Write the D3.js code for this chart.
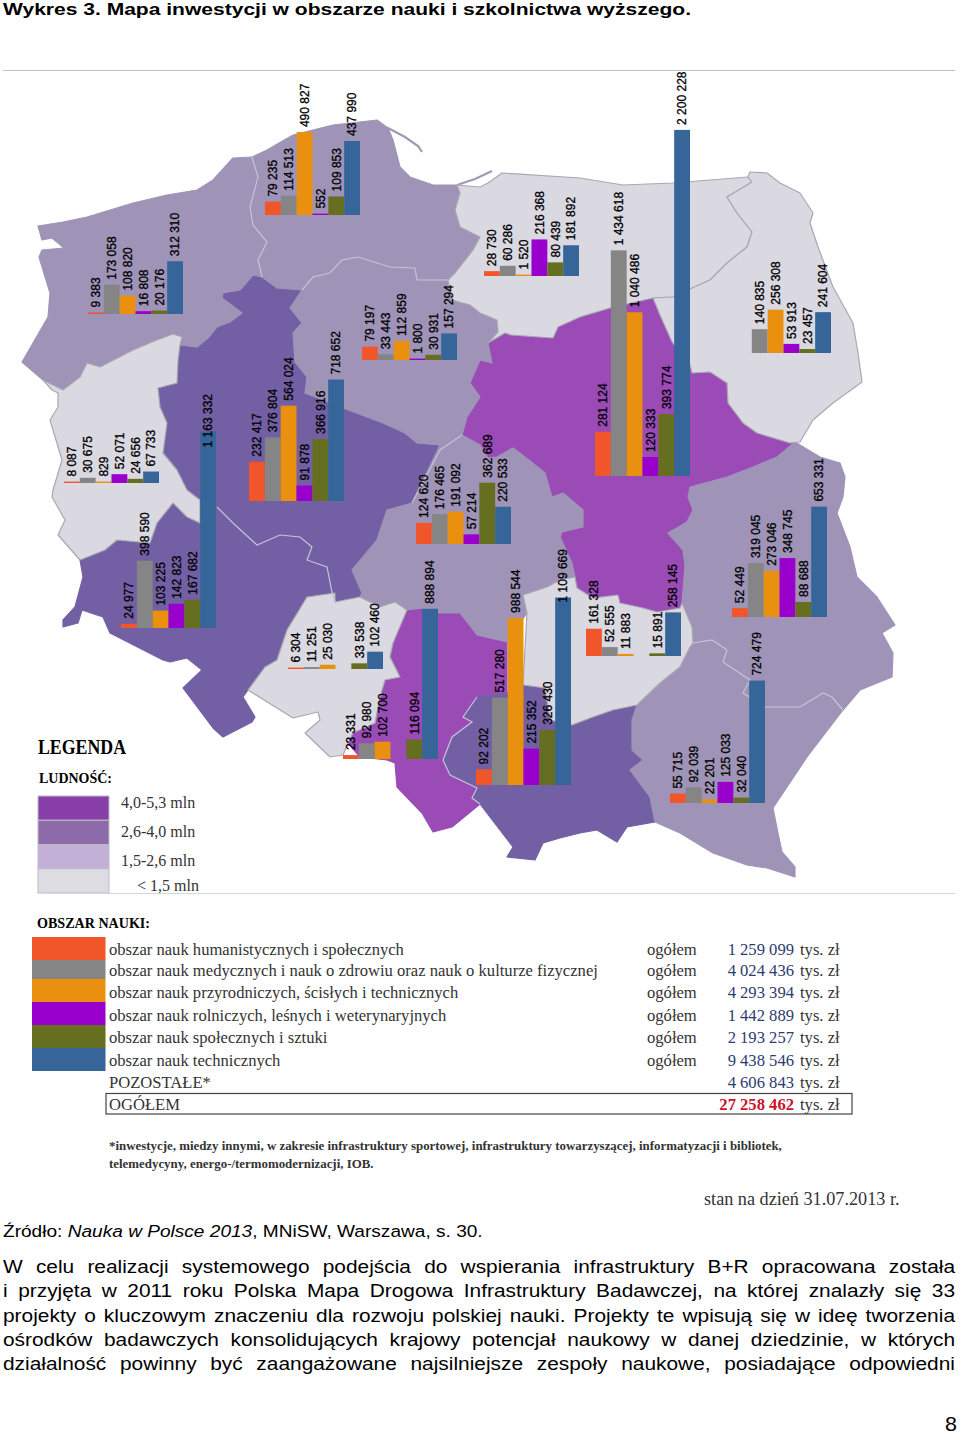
<!DOCTYPE html>
<html>
<head>
<meta charset="utf-8">
<script src="https://d3js.org/d3.v7.min.js"></script>
<style>
    body { margin: 0; background: #fff; }
    svg { display: block; }
    text { font-family: "Liberation Sans", sans-serif; fill: #000; }
    .serif text, text.serif { font-family: "Liberation Serif", serif; }
</style>
</head>
<body>
<svg id="chart" width="960" height="1435"></svg>
<script>
// values per voivodeship, in category order (null = no bar)
var categories = ['hum', 'med', 'prz', 'rol', 'spo', 'tec'];
var zachodniopomorskie = [9383, 173058, 108820, 16808, 20176, 312310];
var pomorskie = [79235, 114513, 490827, 552, 109853, 437990];
var warminskoMazurskie = [28730, 60286, 1520, 216368, 80439, 181892];
var podlaskie = [null, 140835, 256308, 53913, 23457, 241604];
var lubuskie = [8087, 30675, 829, 52071, 24656, 67733];
var wielkopolskie = [232417, 376804, 564024, 91878, 366916, 718652];
var kujawskoPomorskie = [79197, 33443, 112859, 1800, 30931, 157294];
var mazowieckie = [281124, 1434618, 1040486, 120333, 393774, 2200228];
var dolnoslaskie = [24977, 398590, 103225, 142823, 167682, 1163332];
var lodzkie = [124620, 176465, 191092, 57214, 362689, 220533];
var lubelskie = [52449, 319045, 273046, 348745, 88688, 653331];
var opolskie = [6304, 11251, 25030, null, 33538, 102460];
var slaskie = [23331, 92980, 102700, null, 116094, 888894];
var malopolskie = [92202, 517280, 988544, 215352, 326430, 1109669];
var swietokrzyskie = [161328, 52555, 11883, null, 15891, 258145];
var podkarpackie = [55715, 92039, 22201, 125033, 32040, 724479];

var categoryNames = [
    'obszar nauk humanistycznych i społecznych',
    'obszar nauk medycznych i nauk o zdrowiu oraz nauk o kulturze fizycznej',
    'obszar nauk przyrodniczych, ścisłych i technicznych',
    'obszar nauk rolniczych, leśnych i weterynaryjnych',
    'obszar nauk społecznych i sztuki',
    'obszar nauk technicznych'
];
var categoryTotals = ['1 259 099', '4 024 436', '4 293 394', '1 442 889', '2 193 257', '9 438 546'];
var populationLabels = ['4,0-5,3 mln', '2,6-4,0 mln', '1,5-2,6 mln', '< 1,5 mln'];

var categoryColors = ['#f0562a', '#858585', '#e9910f', '#9a00cb', '#666f1f', '#36659a'];
var populationColors = ['#8840a8', '#8d6bab', '#c2b0d6', '#dcdce2'];

// where each bar group stands on the map: left edge, baseline, px per million
var groups = [
    { values: zachodniopomorskie, x: 88, y: 314, k: 169 },
    { values: pomorskie, x: 265, y: 215, k: 169 },
    { values: warminskoMazurskie, x: 484, y: 276, k: 169 },
    { values: podlaskie, x: 736, y: 353, k: 169 },
    { values: lubuskie, x: 64, y: 483, k: 169 },
    { values: wielkopolskie, x: 249, y: 501, k: 169 },
    { values: kujawskoPomorskie, x: 362, y: 360, k: 169 },
    { values: mazowieckie, x: 595, y: 476, k: 157.3 },
    { values: dolnoslaskie, x: 121, y: 628, k: 169, shift: { 5: 21 } },
    { values: lodzkie, x: 416, y: 544, k: 169 },
    { values: lubelskie, x: 732, y: 617, k: 169 },
    { values: opolskie, x: 288, y: 669, k: 169 },
    { values: slaskie, x: 343, y: 759, k: 169 },
    { values: malopolskie, x: 476, y: 785, k: 169, shift: { 5: 10 } },
    { values: swietokrzyskie, x: 586, y: 656, k: 169 },
    { values: podkarpackie, x: 670, y: 803, k: 169 }
];

// basemap outlines, level = index in regionColors
var regions = [
    { level: 0, points: [[492,363],[488,343],[505,333],[511,335],[553,338],[558,327],[580,317],[610,308],[653,298],[660,315],[672,342],[690,365],[692,373],[710,372],[727,383],[728,403],[743,423],[757,433],[790,443],[795,442],[777,457],[753,467],[727,477],[690,487],[688,497],[693,510],[687,522],[668,533],[683,550],[685,565],[682,603],[680,608],[657,612],[643,608],[620,603],[618,595],[593,598],[577,588],[575,577],[572,563],[560,537],[562,532],[583,527],[583,510],[563,493],[552,497],[545,473],[525,457],[513,448],[497,457],[488,458],[480,445],[462,435],[467,417],[480,397],[470,383],[480,360]] },
    { level: 0, points: [[407,610],[422,608],[438,613],[460,613],[477,635],[507,642],[507,693],[493,695],[477,697],[463,717],[472,722],[452,737],[443,760],[450,775],[477,788],[472,798],[480,804],[452,827],[433,832],[422,813],[397,787],[395,763],[387,760],[360,757],[348,743],[353,733],[375,723],[380,697],[385,680],[400,677],[390,657],[393,643]] },
    { level: 1, points: [[262,277],[253,275],[240,290],[223,293],[222,298],[242,313],[230,322],[217,327],[208,338],[197,347],[180,345],[178,360],[177,383],[158,388],[160,407],[167,423],[163,453],[177,470],[187,490],[200,500],[217,507],[233,523],[257,545],[280,535],[300,537],[312,547],[307,560],[327,567],[332,592],[335,602],[360,597],[362,593],[352,570],[363,557],[377,540],[387,510],[412,503],[440,450],[438,445],[417,443],[405,433],[383,423],[343,408],[305,393],[307,377],[295,362],[293,333],[302,323],[290,308],[302,290],[277,288]] },
    { level: 1, points: [[80,560],[83,577],[75,607],[63,620],[63,627],[78,623],[82,610],[103,617],[110,633],[163,660],[170,662],[187,658],[202,670],[183,688],[213,728],[223,737],[252,722],[255,717],[243,697],[248,690],[265,667],[277,660],[287,630],[307,597],[335,593],[335,602],[332,592],[327,567],[307,560],[312,547],[300,537],[280,535],[257,545],[233,523],[217,507],[200,500],[200,523],[187,517],[173,503],[157,523],[150,543],[117,540],[105,550]] },
    { level: 1, points: [[477,697],[493,695],[507,693],[523,685],[545,688],[550,720],[572,725],[593,717],[613,710],[637,705],[632,720],[632,750],[643,760],[630,770],[650,797],[655,822],[627,827],[617,842],[597,830],[580,833],[560,838],[543,843],[535,860],[507,857],[513,847],[480,804],[472,798],[477,788],[450,775],[443,760],[452,737],[472,722],[463,717]] },
    { level: 2, points: [[252,157],[233,158],[213,180],[197,190],[167,195],[133,203],[87,217],[63,222],[38,226],[42,240],[52,238],[64,248],[42,250],[39,257],[50,293],[48,317],[33,343],[22,362],[43,380],[63,390],[80,377],[87,363],[100,367],[133,350],[157,340],[173,334],[182,337],[180,345],[197,347],[208,338],[217,327],[230,322],[242,313],[222,298],[223,293],[240,290],[253,275],[262,277],[258,260],[267,242],[253,225],[250,207],[258,177]] },
    { level: 2, points: [[252,157],[267,150],[293,135],[333,125],[377,120],[388,128],[393,140],[400,167],[410,177],[433,185],[457,185],[460,193],[455,210],[460,227],[480,237],[473,250],[455,273],[448,280],[417,280],[415,268],[390,267],[358,257],[342,260],[330,273],[313,277],[302,290],[277,288],[262,277],[258,260],[267,242],[253,225],[250,207],[258,177]] },
    { level: 2, points: [[302,290],[313,277],[330,273],[342,260],[358,257],[390,267],[415,268],[417,280],[448,280],[452,300],[470,305],[480,313],[497,320],[498,332],[488,343],[492,363],[480,360],[470,383],[480,397],[467,417],[462,435],[440,445],[417,443],[405,433],[383,423],[343,408],[305,393],[307,377],[295,362],[293,333],[302,323],[290,308]] },
    { level: 2, points: [[440,445],[462,435],[480,445],[488,458],[497,457],[513,448],[525,457],[545,473],[552,497],[563,493],[583,510],[583,527],[562,532],[560,537],[572,563],[575,577],[560,580],[547,587],[523,595],[527,613],[507,642],[477,635],[460,613],[438,613],[422,608],[407,610],[395,602],[380,607],[360,597],[362,593],[352,570],[363,557],[377,540],[387,510],[412,503]] },
    { level: 2, points: [[795,442],[820,457],[840,463],[845,477],[843,497],[837,513],[850,547],[857,577],[877,597],[895,625],[882,633],[893,653],[892,677],[860,690],[843,710],[832,697],[823,693],[800,707],[765,707],[743,693],[750,680],[723,662],[727,650],[712,640],[693,643],[692,627],[682,603],[685,565],[683,550],[668,533],[687,522],[693,510],[688,497],[690,487],[727,477],[753,467],[777,457]] },
    { level: 2, points: [[637,705],[660,683],[680,667],[690,647],[693,643],[712,640],[727,650],[723,662],[750,680],[743,693],[765,707],[800,707],[823,693],[832,697],[843,710],[807,757],[773,808],[778,833],[782,852],[795,867],[795,877],[767,868],[747,865],[713,853],[680,833],[655,822],[650,797],[630,770],[643,760],[632,750],[632,720]] },
    { level: 3, points: [[43,380],[63,390],[80,377],[87,363],[100,367],[133,350],[157,340],[173,334],[182,337],[180,345],[178,360],[177,383],[158,388],[160,407],[167,423],[163,453],[177,470],[187,490],[200,500],[200,523],[187,517],[173,503],[157,523],[150,543],[117,540],[105,550],[80,560],[58,535],[65,520],[52,497],[53,490],[62,460],[50,420],[58,407],[58,393],[52,390]] },
    { level: 3, points: [[480,187],[488,183],[502,173],[580,178],[623,185],[673,183],[748,177],[752,182],[727,197],[737,213],[752,232],[747,247],[727,263],[710,280],[692,288],[673,297],[653,298],[610,308],[580,317],[558,327],[553,338],[511,335],[505,333],[488,343],[498,332],[497,320],[480,313],[470,305],[452,300],[448,280],[455,273],[473,250],[480,237],[460,227],[455,210],[460,193],[457,185]] },
    { level: 3, points: [[748,177],[750,172],[767,173],[780,183],[800,193],[813,213],[810,223],[818,247],[833,287],[853,323],[858,353],[862,382],[833,403],[813,420],[800,442],[790,443],[757,433],[743,423],[728,403],[727,383],[710,372],[692,373],[690,365],[672,342],[660,315],[653,298],[673,297],[692,288],[710,280],[727,263],[747,247],[752,232],[737,213],[727,197],[752,182]] },
    { level: 3, points: [[307,597],[335,593],[335,602],[360,597],[380,607],[395,602],[407,610],[393,643],[390,657],[400,677],[385,680],[380,697],[375,723],[353,733],[348,743],[343,755],[330,757],[305,733],[320,720],[318,712],[293,718],[285,713],[248,690],[265,667],[277,660],[287,630]] },
    { level: 3, points: [[527,613],[523,595],[547,587],[560,580],[575,577],[577,588],[593,598],[618,595],[620,603],[643,608],[657,612],[680,608],[682,603],[692,627],[693,643],[690,647],[680,667],[660,683],[637,705],[613,710],[593,717],[572,725],[550,720],[545,688],[523,685]] }
];

// lighter lines where two regions meet without a colour step
var seams = [
    [[252,157],[258,177],[250,207],[253,225],[267,242],[258,260],[262,277]],
    [[302,290],[313,277],[330,273],[342,260],[358,257],[390,267],[415,268],[417,280],[448,280]],
    [[412,503],[440,450],[462,435]],
    [[217,507],[233,523],[257,545],[280,535],[300,537],[312,547],[307,560],[327,567],[332,592],[335,602]],
    [[693,643],[712,640],[727,650],[723,662],[750,680],[743,693],[765,707],[800,707],[823,693],[832,697],[843,710]],
    [[477,697],[463,717],[472,722],[452,737],[443,760],[450,775],[477,788],[472,798],[480,804]]
];
var coastStrips = [
    [[388,128],[405,137],[418,146],[422,152]],
    [[457,185],[475,179],[492,171]]
];

var paragraph = [
    'W celu realizacji systemowego podejścia do wspierania infrastruktury B+R opracowana została',
    'i przyjęta w 2011 roku Polska Mapa Drogowa Infrastruktury Badawczej, na której znalazły się 33',
    'projekty o kluczowym znaczeniu dla rozwoju polskiej nauki. Projekty te wpisują się w ideę tworzenia',
    'ośrodków badawczych konsolidujących krajowy potencjał naukowy w danej dziedzinie, w których',
    'działalność powinny być zaangażowane najsilniejsze zespoły naukowe, posiadające odpowiedni'
];

var svg = d3.select('#chart');
var lineGen = d3.line();
var outline = d3.line().curve(d3.curveLinearClosed);
var formatValue = function(v) {
    return d3.format(',')(v).replace(/,/g, ' ');
};

// page text, the scan is stretched sideways so the text is too
var textStretch = 1.13;
svg.append('text').attr('x', 3).attr('y', 15).
    attr('textLength', 688).attr('lengthAdjust', 'spacingAndGlyphs').
    style('font-size', '17px').style('font-weight', 'bold').
    text('Wykres 3. Mapa inwestycji w obszarze nauki i szkolnictwa wyższego.');

svg.append('line').attr('x1', 3).attr('x2', 955).attr('y1', 70.5).attr('y2', 70.5).
    attr('stroke', '#b5c7d6');

// map
var map = svg.append('g');
map.selectAll('.strip').
    data(coastStrips).
    enter().
    append('path').
    attr('d', lineGen).
    attr('fill', 'none').
    attr('stroke', '#a09ab0').
    attr('stroke-width', 2.2);

var regionColors = ['#9a4bb6', '#7360a4', '#9f94b7', '#dad8e0'];
map.selectAll('.region').
    data(regions).
    enter().
    append('path').
    attr('class', 'region').
    attr('d', function(d) {
        return outline(d.points);
    }).
    attr('fill', function(d) {
        return regionColors[d.level];
    }).
    attr('stroke', function(d) {
        return d.level === 3 ? '#a9a7b1' : regionColors[d.level];
    }).
    attr('stroke-width', 1.2).
    attr('stroke-linejoin', 'round');

map.selectAll('.seam').
    data(seams).
    enter().
    append('path').
    attr('d', lineGen).
    attr('fill', 'none').
    attr('stroke', '#c6c3d6').
    attr('stroke-width', 1.2);

// bar groups
var color = d3.scaleOrdinal().domain(categories).range(categoryColors);
var group = svg.selectAll('.group').
    data(groups).
    enter().
    append('g').
    attr('class', 'group');

group.each(function(g) {
    var x = d3.scaleBand().domain(categories).range([g.x, g.x + 95]);
    var h = d3.scaleLinear().domain([0, 1000000]).range([0, g.k]);
    var items = g.values.map(function(v, i) {
        return { value: v, index: i, cat: categories[i] };
    }).filter(function(d) {
        return d.value !== null;
    });
    var sel = d3.select(this);

    sel.selectAll('rect').
        data(items).
        enter().
        append('rect').
        attr('x', function(d) {
            return x(d.cat);
        }).
        attr('width', x.bandwidth()).
        attr('y', function(d) {
            return g.y - Math.max(h(d.value), 1.4);
        }).
        attr('height', function(d) {
            return Math.max(h(d.value), 1.4);
        }).
        attr('fill', function(d) {
            return color(d.cat);
        });

    sel.selectAll('text').
        data(items).
        enter().
        append('text').
        attr('transform', function(d) {
            var cx = x(d.cat) + x.bandwidth() / 2;
            var shift = (g.shift && g.shift[d.index]) || 0;
            var cy = g.y - Math.max(h(d.value), 1.4) - 5 + shift;
            return 'translate(' + cx + ',' + cy + ') rotate(-90)';
        }).
        attr('dy', '0.36em').
        style('font-size', '12px').
        style('stroke', '#000').
        style('stroke-width', '0.3px').
        text(function(d) {
            return formatValue(d.value);
        });
});

// legend
var legend = svg.append('g').attr('class', 'serif');
legend.append('text').attr('x', 38).attr('y', 754).
    attr('textLength', 88).attr('lengthAdjust', 'spacingAndGlyphs').
    style('font-size', '20px').style('font-weight', 'bold').text('LEGENDA');
legend.append('text').attr('x', 39).attr('y', 783).
    attr('textLength', 73).attr('lengthAdjust', 'spacingAndGlyphs').
    style('font-size', '15px').style('font-weight', 'bold').text('LUDNOŚĆ:');

var popY = d3.scaleBand().domain(populationLabels).range([796, 893]);
legend.selectAll('.pop').
    data(populationLabels).
    enter().
    append('rect').
    attr('x', 38).
    attr('width', 71).
    attr('y', function(d) {
        return popY(d);
    }).
    attr('height', popY.bandwidth()).
    attr('fill', function(d, i) {
        return populationColors[i];
    }).
    attr('stroke', '#bdbdc6');
legend.selectAll('.popLabel').
    data(populationLabels).
    enter().
    append('text').
    attr('x', function(d, i) {
        return i === 3 ? 137 : 121;
    }).
    attr('y', function(d, i) {
        return [808, 837, 866, 891][i];
    }).
    style('font-size', '16px').
    style('fill', '#333').
    text(function(d) {
        return d;
    });

svg.append('line').attr('x1', 48).attr('x2', 955).attr('y1', 893.5).attr('y2', 893.5).
    attr('stroke', '#cddada');

legend.append('text').attr('x', 37).attr('y', 928).
    attr('textLength', 113).attr('lengthAdjust', 'spacingAndGlyphs').
    style('font-size', '14.5px').style('font-weight', 'bold').text('OBSZAR NAUKI:');

var rowY = [954.5, 976, 998, 1020.5, 1043, 1066, 1088, 1110];
var swatchY = [937, 960, 979, 1002, 1025, 1048, 1071];
var legendFont = '16.6px';
categoryNames.forEach(function(name, i) {
    legend.append('rect').attr('x', 32).attr('width', 73.5).
        attr('y', swatchY[i]).attr('height', swatchY[i + 1] - swatchY[i]).
        attr('fill', categoryColors[i]);
    legend.append('text').attr('x', 109).attr('y', rowY[i]).
        style('font-size', legendFont).style('fill', '#333').text(name);
    legend.append('text').attr('x', 647).attr('y', rowY[i]).
        style('font-size', legendFont).style('fill', '#333').text('ogółem');
    legend.append('text').attr('x', 794).attr('y', rowY[i]).attr('text-anchor', 'end').
        style('font-size', legendFont).style('fill', '#2c3b70').text(categoryTotals[i]);
    legend.append('text').attr('x', 800).attr('y', rowY[i]).
        style('font-size', legendFont).style('fill', '#333').text('tys. zł');
});
legend.append('text').attr('x', 109).attr('y', rowY[6]).
    style('font-size', legendFont).style('fill', '#333').text('POZOSTAŁE*');
legend.append('text').attr('x', 794).attr('y', rowY[6]).attr('text-anchor', 'end').
    style('font-size', legendFont).style('fill', '#2c3b70').text('4 606 843');
legend.append('text').attr('x', 800).attr('y', rowY[6]).
    style('font-size', legendFont).style('fill', '#333').text('tys. zł');

legend.append('rect').attr('x', 106).attr('y', 1093.5).attr('width', 746).attr('height', 20.5).
    attr('fill', 'none').attr('stroke', '#444').attr('stroke-width', 1.2);
legend.append('text').attr('x', 109).attr('y', rowY[7]).
    style('font-size', legendFont).style('fill', '#333').text('OGÓŁEM');
legend.append('text').attr('x', 794).attr('y', rowY[7]).attr('text-anchor', 'end').
    style('font-size', legendFont).style('font-weight', 'bold').style('fill', '#c8142c').text('27 258 462');
legend.append('text').attr('x', 800).attr('y', rowY[7]).
    style('font-size', legendFont).style('fill', '#333').text('tys. zł');

legend.append('text').attr('x', 109).attr('y', 1150).
    style('font-size', '12.9px').style('fill', '#333').style('font-weight', 'bold').
    text('*inwestycje, miedzy innymi, w zakresie infrastruktury sportowej, infrastruktury towarzyszącej, informatyzacji i bibliotek,');
legend.append('text').attr('x', 109).attr('y', 1168).
    style('font-size', '12.9px').style('fill', '#333').style('font-weight', 'bold').
    text('telemedycyny, energo-/termomodernizacji, IOB.');
legend.append('text').attr('x', 704).attr('y', 1205).
    style('font-size', '18.2px').style('fill', '#333').text('stan na dzień 31.07.2013 r.');

// source and body text
var source = svg.append('text').
    attr('transform', 'translate(3,1237) scale(' + textStretch + ',1)').
    style('font-size', '16.9px');
source.append('tspan').text('Źródło: ');
source.append('tspan').style('font-style', 'italic').text('Nauka w Polsce 2013');
source.append('tspan').text(', MNiSW, Warszawa, s. 30.');

var bodyY = [1273, 1297, 1322, 1346, 1370];
svg.selectAll('.bodyLine').
    data(paragraph).
    enter().
    append('text').
    attr('class', 'bodyLine').
    attr('transform', function(d, i) {
        return 'translate(3,' + bodyY[i] + ') scale(' + textStretch + ',1)';
    }).
    style('font-size', '18.5px').
    text(function(d) {
        return d;
    }).
    each(function(d) {
        // justified to the column width
        var gaps = d.split(' ').length - 1;
        var extra = (952 / textStretch - this.getComputedTextLength()) / gaps;
        d3.select(this).style('word-spacing', extra + 'px');
    });

svg.append('text').attr('transform', 'translate(945,1431) scale(1.1,1)').
    style('font-size', '19.5px').text('8');
</script>
</body>
</html>
